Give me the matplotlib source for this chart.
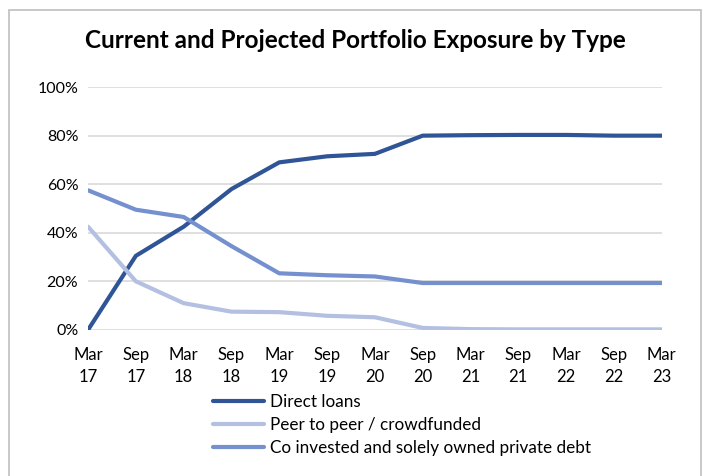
import matplotlib.pyplot as plt
from matplotlib.patches import Rectangle
from matplotlib.ticker import PercentFormatter

plt.rcParams['font.family'] = ['Lato', 'DejaVu Sans']

periods = ['Mar\n17', 'Sep\n17', 'Mar\n18', 'Sep\n18', 'Mar\n19', 'Sep\n19', 'Mar\n20',
           'Sep\n20', 'Mar\n21', 'Sep\n21', 'Mar\n22', 'Sep\n22', 'Mar\n23']
direct_loans = [0, 30.5, 42.5, 58, 69, 71.5, 72.5, 80, 80.2, 80.3, 80.3, 80, 80]
peer_to_peer = [42.5, 20, 11, 7.5, 7.3, 5.8, 5.2, 0.8, 0.3, 0.2, 0.2, 0.2, 0.2]
co_invested = [57.5, 49.5, 46.5, 34.5, 23.3, 22.5, 22, 19.3, 19.3, 19.3, 19.3, 19.3, 19.3]

fig = plt.figure(figsize=(7.1, 4.76), dpi=100)
ax = fig.add_axes([0.124, 0.307, 0.808, 0.51])

x = range(len(periods))
ax.plot(x, direct_loans, color='#2F5597', lw=3.0, solid_capstyle='round', label='Direct loans', zorder=3)
ax.plot(x, peer_to_peer, color='#B4C0E2', lw=3.0, solid_capstyle='round', label='Peer to peer / crowdfunded', zorder=3)
ax.plot(x, co_invested, color='#7590CF', lw=3.0, solid_capstyle='round',
        label='Co invested and solely owned private debt', zorder=3)

ax.set_xlim(0, len(periods) - 1)
ax.set_ylim(0, 100)
ax.set_yticks(range(0, 101, 20))
ax.yaxis.set_major_formatter(PercentFormatter(decimals=0))
ax.set_xticks(list(x))
ax.set_xticklabels(periods)
ax.grid(axis='y', color='#D9D9D9', lw=1.2)
ax.set_axisbelow(True)
for s in ax.spines.values():
    s.set_visible(False)
ax.tick_params(length=0, labelsize=11.5, colors='#000000')
ax.tick_params(axis='x', pad=12, labelsize=12)
ax.tick_params(axis='y', pad=7)
for lbl in ax.get_xticklabels():
    lbl.set_linespacing(1.5)

fig.text(0.5, 0.915, 'Current and Projected Portfolio Exposure by Type', ha='center', va='center',
         fontsize=17.5, fontweight='bold')

fig.legend(loc='upper left', bbox_to_anchor=(0.288, 0.19), frameon=False, fontsize=12.3,
           handlelength=3.0, handletextpad=0.35, labelspacing=0.42, borderpad=0)

fig.patches.append(Rectangle((9 / 710, -0.01), 692 / 710, 1 - 10 / 476 + 0.01, transform=fig.transFigure,
                             fill=False, edgecolor='#BFBFBF', lw=1.2))

fig.savefig('out.png', dpi=100)
